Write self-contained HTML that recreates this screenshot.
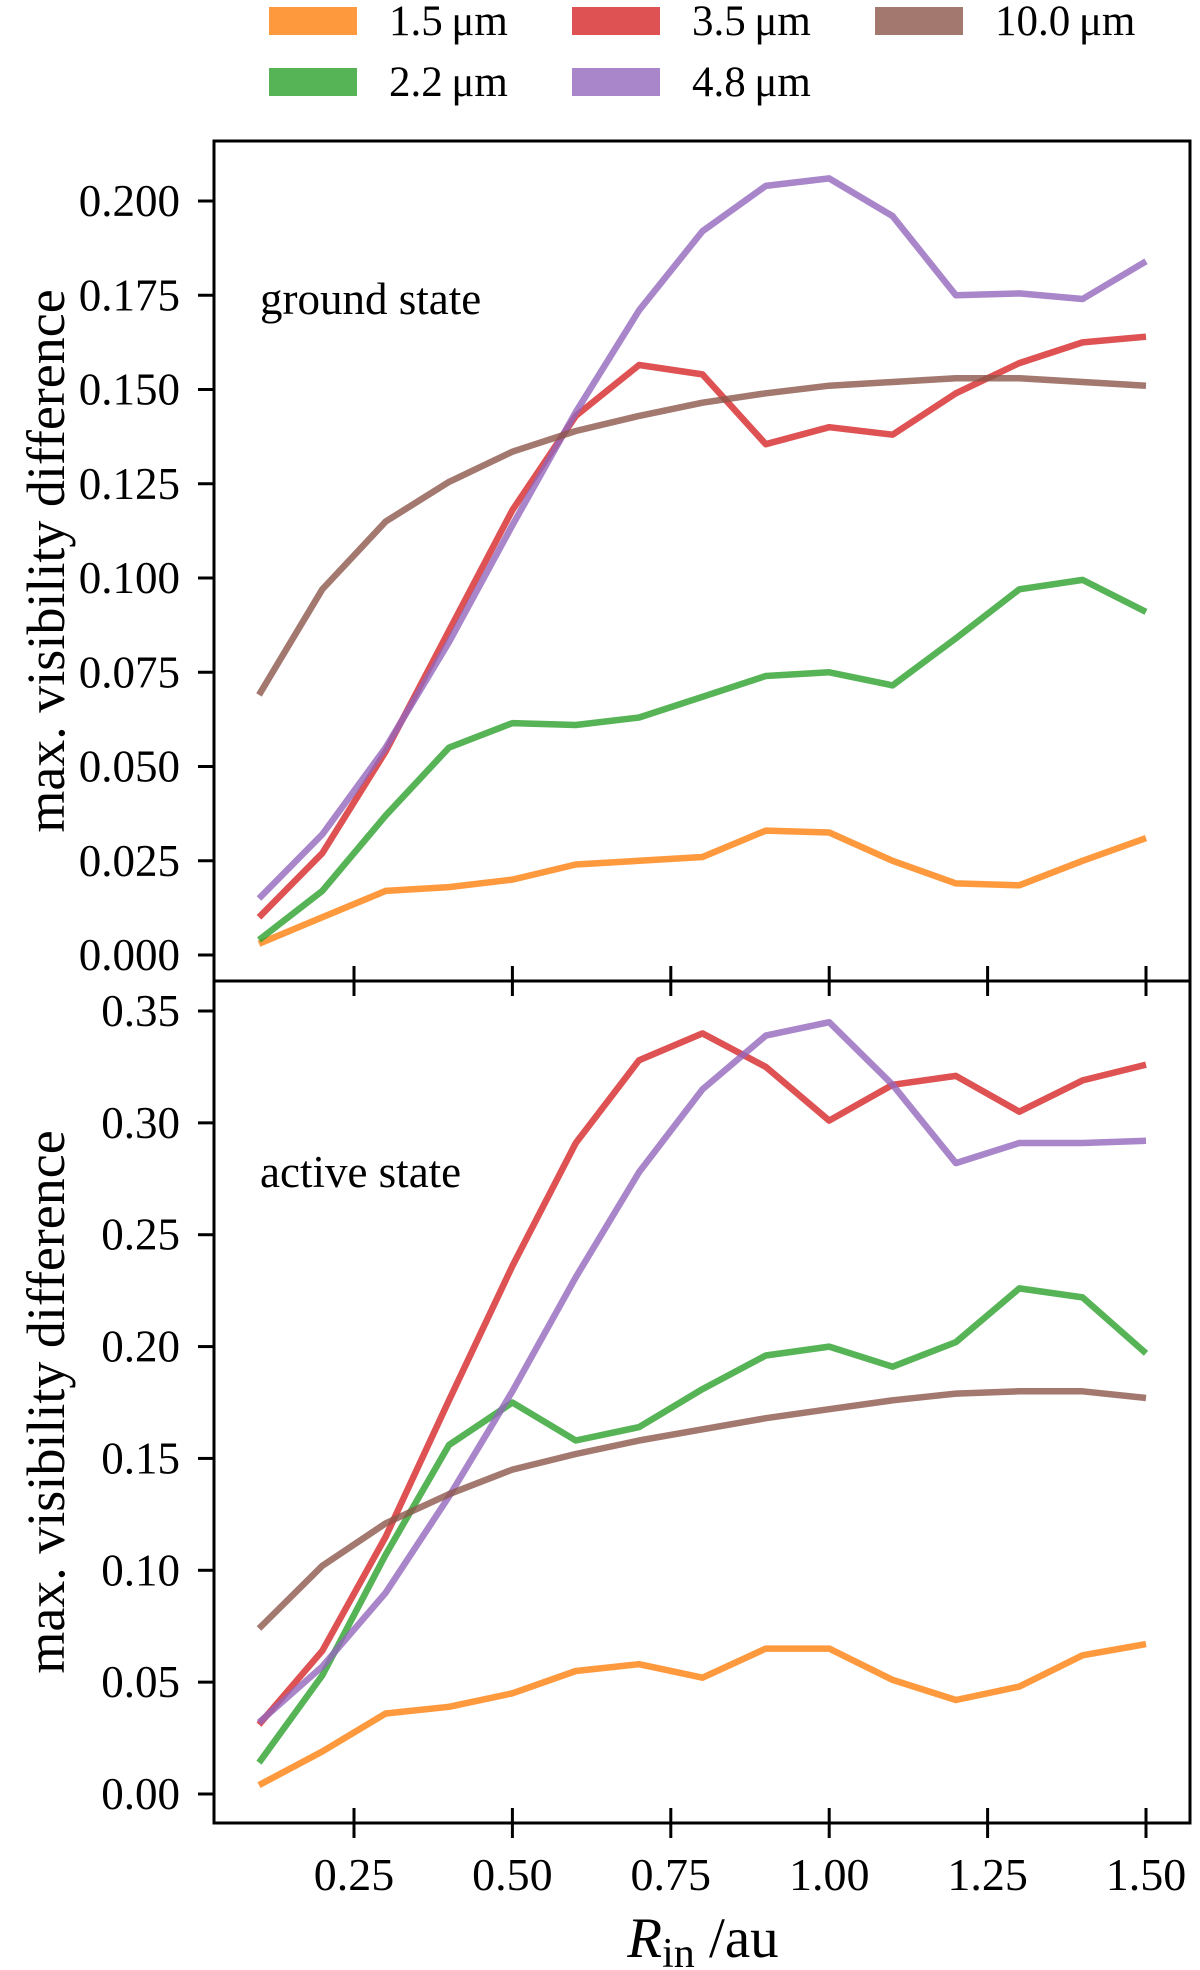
<!DOCTYPE html>
<html><head><meta charset="utf-8"><style>
html,body{margin:0;padding:0;background:#fff;}
svg{display:block;font-family:"Liberation Serif",serif;}
</style></head><body>
<svg id="chart" width="1200" height="1970" viewBox="0 0 1200 1970"></svg>
<script>
const xValues=[0.1,0.2,0.3,0.4,0.5,0.6,0.7,0.8,0.9,1.0,1.1,1.2,1.3,1.4,1.5];
const seriesLabels=["1.5\u2009μm","2.2\u2009μm","3.5\u2009μm","4.8\u2009μm","10.0\u2009μm"];
const seriesColors=["#ff7f0e","#2ca02c","#d62728","#9467bd","#8c564b"];
const ground15=[0.003,0.010,0.017,0.018,0.020,0.024,0.025,0.026,0.033,0.0325,0.025,0.019,0.0185,0.025,0.031];
const ground22=[0.004,0.017,0.037,0.055,0.0615,0.061,0.063,0.0685,0.074,0.075,0.0715,0.084,0.097,0.0995,0.091];
const ground35=[0.010,0.027,0.054,0.086,0.118,0.143,0.1565,0.154,0.1355,0.140,0.138,0.149,0.157,0.1625,0.164];
const ground48=[0.015,0.032,0.055,0.083,0.114,0.144,0.171,0.192,0.204,0.206,0.196,0.175,0.1755,0.174,0.184];
const ground100=[0.069,0.097,0.115,0.1255,0.1335,0.139,0.143,0.1465,0.149,0.151,0.152,0.153,0.153,0.152,0.151];
const active15=[0.004,0.019,0.036,0.039,0.045,0.055,0.058,0.052,0.065,0.065,0.051,0.042,0.048,0.062,0.067];
const active22=[0.014,0.053,0.107,0.156,0.175,0.158,0.164,0.181,0.196,0.200,0.191,0.202,0.226,0.222,0.197];
const active35=[0.031,0.064,0.115,0.176,0.236,0.291,0.328,0.340,0.325,0.301,0.317,0.321,0.305,0.319,0.326];
const active48=[0.032,0.057,0.090,0.133,0.180,0.231,0.278,0.315,0.339,0.345,0.317,0.282,0.291,0.291,0.292];
const active100=[0.074,0.102,0.121,0.134,0.145,0.152,0.158,0.163,0.168,0.172,0.176,0.179,0.180,0.180,0.177];
const xTicks=[0.25,0.5,0.75,1.0,1.25,1.5];
const xTickLabels=["0.25","0.50","0.75","1.00","1.25","1.50"];
const groundTicks=[0,0.025,0.05,0.075,0.1,0.125,0.15,0.175,0.2];
const groundTickLabels=["0.000","0.025","0.050","0.075","0.100","0.125","0.150","0.175","0.200"];
const activeTicks=[0,0.05,0.1,0.15,0.2,0.25,0.3,0.35];
const activeTickLabels=["0.00","0.05","0.10","0.15","0.20","0.25","0.30","0.35"];

const NS="http://www.w3.org/2000/svg";
const svg=document.getElementById('chart');
function mk(tag,attrs,parent){const e=document.createElementNS(NS,tag);for(const k in attrs)e.setAttribute(k,attrs[k]);(parent||svg).appendChild(e);return e;}
const L=214,R=1190;
const xScale=v=>354+(v-0.25)*(1146-354)/1.25;
const panels=[
 {name:"ground",top:141,bottom:981,y:v=>955-v*(955-201)/0.2,ticks:groundTicks,labels:groundTickLabels,series:[ground15,ground22,ground35,ground48,ground100],title:"ground state",ty:314},
 {name:"active",top:981,bottom:1823,y:v=>1794-v*(1794-1011)/0.35,ticks:activeTicks,labels:activeTickLabels,series:[active15,active22,active35,active48,active100],title:"active state",ty:1187}
];
panels.forEach(p=>{
  const g=mk('g',{});
  
  
  p.series.forEach((s,i)=>{
    const pts=s.map((v,j)=>xScale(xValues[j]).toFixed(1)+','+p.y(v).toFixed(1)).join(' ');
    const pl=mk('polyline',{points:pts,fill:'none',stroke:seriesColors[i],'stroke-opacity':0.8,'stroke-width':6.5,'stroke-linejoin':'round'},g);
    
    
  });
  p.ticks.forEach((t,i)=>{
    const yy=p.y(t);
    mk('line',{x1:L-16,x2:L,y1:yy,y2:yy,stroke:'#000','stroke-width':3},g);
    const tx=mk('text',{x:180,y:yy+15,'text-anchor':'end','font-size':45},g);
    tx.textContent=p.labels[i];
    
    
  });
  xTicks.forEach(t=>{
    const xx=xScale(t);
    mk('line',{x1:xx,x2:xx,y1:p.bottom-15,y2:p.bottom+15,stroke:'#000','stroke-width':3},g);
  });
  mk('rect',{x:L,y:p.top,width:R-L,height:p.bottom-p.top,fill:'none',stroke:'#000','stroke-width':3},g);
  const tt=mk('text',{x:260,y:p.ty,'font-size':45},g);
  tt.textContent=p.title;
  
  
  const yl=mk('text',{x:0,y:0,'font-size':54,'text-anchor':'middle',transform:'translate(64,'+((p.top+p.bottom)/2)+') rotate(-90)'},g);
  yl.textContent='max. visibility difference';
  
  
});
xTicks.forEach((t,i)=>{
  const tx=mk('text',{x:xScale(t),y:1890,'text-anchor':'middle','font-size':46});
  tx.textContent=xTickLabels[i];
  
  
});
const xt=mk('text',{x:703,y:1957,'text-anchor':'middle','font-size':57});
xt.innerHTML='<tspan font-style="italic">R</tspan><tspan font-size="42" dy="10">in</tspan><tspan dy="-10"> /au</tspan>';


const legendCols=[269,572,875],legendRows=[21,82];
const pos=[[0,0],[0,1],[1,0],[1,1],[2,0]];
seriesLabels.forEach((lab,i)=>{
  const c=pos[i][0],r=pos[i][1];
  const g=mk('g',{});
  
  
  mk('rect',{x:legendCols[c],y:legendRows[r]-14,width:88,height:28,fill:seriesColors[i],'fill-opacity':0.8},g);
  const t=mk('text',{x:legendCols[c]+120,y:legendRows[r]+14,'font-size':43},g);
  t.textContent=lab;
});
</script>
</body></html>
